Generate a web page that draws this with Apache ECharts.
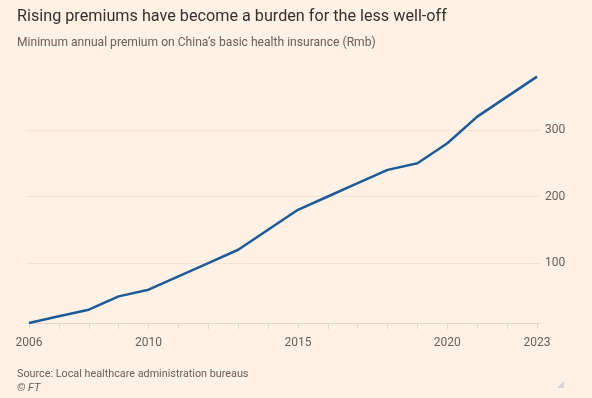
<!DOCTYPE html>
<html>
<head>
<meta charset="utf-8">
<script src="https://cdn.jsdelivr.net/npm/echarts@6/dist/echarts.min.js"></script>
<style>
html,body{margin:0;padding:0;background:#fff1e5;}
#c{width:592px;height:398px;}
</style>
</head>
<body>
<div id="c"></div>
<script>
var years = [2006,2007,2008,2009,2010,2011,2012,2013,2014,2015,2016,2017,2018,2019,2020,2021,2022,2023];
var premium = [10,20,30,50,60,80,100,120,150,180,200,220,240,250,280,320,350,380];
var xTickLabels = [2006,2010,2015,2020,2023];
var yTickLabels = [100,200,300];

var chart = echarts.init(document.getElementById('c'));
var font = 'Roboto';
chart.setOption({
  backgroundColor: '#fff1e5',
  animation: false,
  title: [
    {text: 'Rising premiums have become a burden for the less well-off', left: 12, top: 4,
     textStyle: {fontFamily: font, fontSize: 16.2, fontWeight: 'normal', color: '#33302e'}},
    {text: 'Minimum annual premium on China\u2019s basic health insurance (Rmb)', left: 12, top: 32,
     textStyle: {fontFamily: font, fontSize: 12.1, fontWeight: 'normal', color: '#66605c'}},
    {text: 'Source: Local healthcare administration bureaus', left: 12, top: 364,
     textStyle: {fontFamily: font, fontSize: 10.8, fontWeight: 'normal', color: '#66605c'}},
    {text: '\u00a9 FT', left: 12, top: 378,
     textStyle: {fontFamily: font, fontSize: 11, fontWeight: 'normal', fontStyle: 'italic', color: '#66605c'}}
  ],
  grid: {left: 26, right: 52, top: 70, bottom: 75},
  xAxis: {
    type: 'value', min: 2005.9, max: 2023.1,
    axisLine: {show: true, lineStyle: {color: '#e3d6ca', width: 1}},
    axisTick: {show: true, length: 6, customValues: years, lineStyle: {color: '#e3d6ca'}},
    axisLabel: {customValues: xTickLabels, margin: 14, fontFamily: font, fontSize: 12, color: '#66605c',
      formatter: function(v){return String(v);}},
    splitLine: {show: false}
  },
  yAxis: {
    type: 'value', min: 10, max: 390, position: 'right',
    axisLine: {show: false},
    axisTick: {show: false, customValues: yTickLabels},
    axisLabel: {customValues: yTickLabels, margin: 5, fontFamily: font, fontSize: 12, color: '#66605c'},
    splitLine: {show: true, lineStyle: {color: '#f3e1d2', width: 1}}
  },
  series: [{
    type: 'line',
    data: years.map(function(y, i){return [y, premium[i]];}),
    symbol: 'none',
    lineStyle: {color: '#1d5a98', width: 2.5},
    z: 5
  }],
  graphic: [{
    type: 'polygon',
    shape: {points: [[557, 388], [564, 381], [564, 388]]},
    style: {fill: '#d8d3ce'}
  }]
});
</script>
</body>
</html>
